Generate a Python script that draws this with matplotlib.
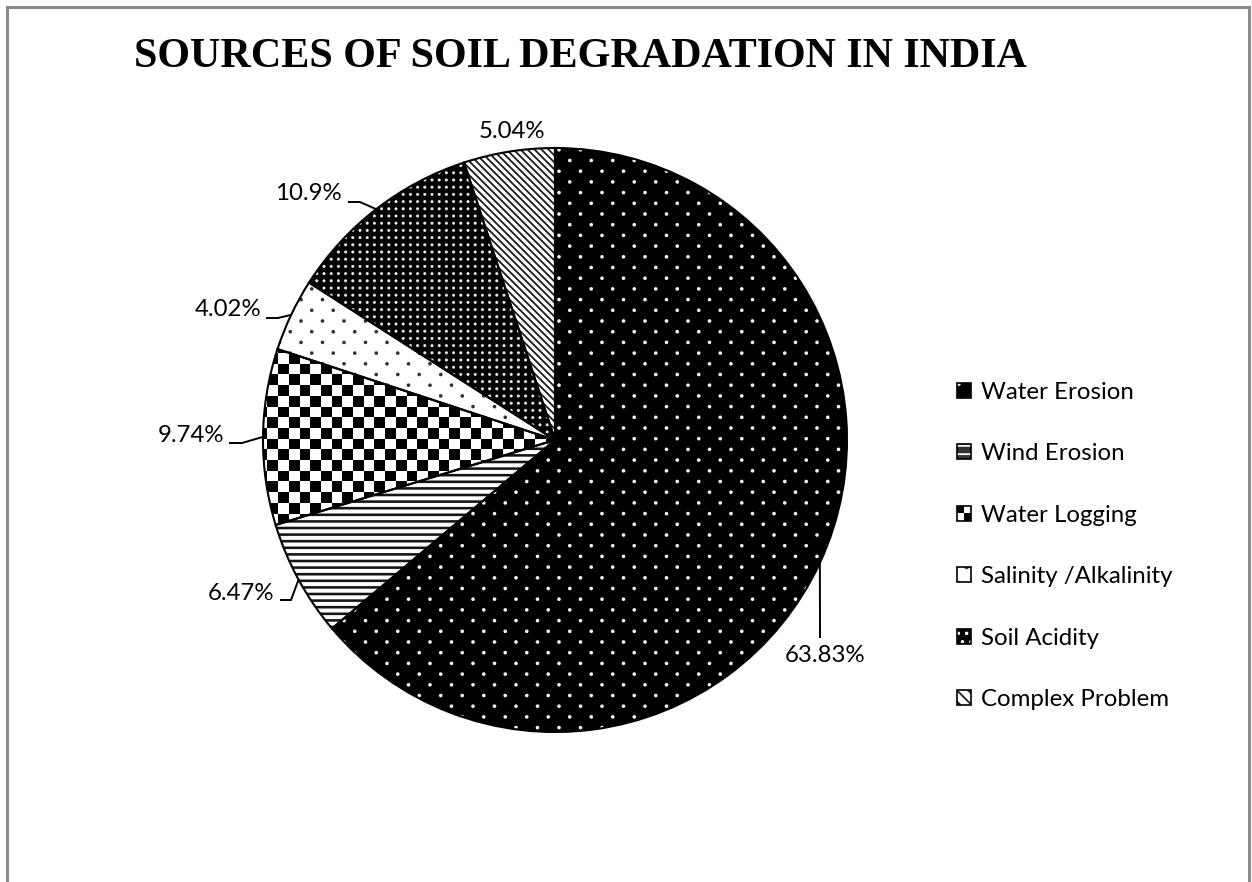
import numpy as np
import matplotlib
matplotlib.use('Agg')
import matplotlib.pyplot as plt
from matplotlib.patches import Rectangle
from matplotlib.legend_handler import HandlerBase

# ---------------- data ----------------
categories = ["Water Erosion", "Wind Erosion", "Water Logging",
              "Salinity /Alkalinity", "Soil Acidity", "Complex Problem"]
values = [63.83, 6.47, 9.74, 4.02, 10.9, 5.04]
label_texts = ["63.83%", "6.47%", "9.74%", "4.02%", "10.9%", "5.04%"]
title_text = "SOURCES OF SOIL DEGRADATION IN INDIA"

# ---------------- style ----------------
W, H = 1252, 882
pattern_kind = ['sparse_dots_dark', 'hlines', 'checker', 'sparse_dots_light',
                'dense_dots_dark', 'diag']
# legend swatch styles (hatch-based)
leg_face = ['black', '#333333', 'white', 'white', 'black', 'white']
leg_hcol = ['white', 'white', 'white', '#444444', 'white', '#222222']
leg_hatch = ['.', '--', None, '.', '..', '\\\\\\']

plt.rcParams['hatch.linewidth'] = 1.3
LABEL_FONT = ['Lato', 'DejaVu Sans']
FS = 17.3

fig = plt.figure(figsize=(W / 100, H / 100), dpi=100)
ax = fig.add_axes([0, 0, 1, 1])


def py(y):
    return H - y


cx_px, cy_px = 555, 440
R = 292
center = (cx_px, py(cy_px))

wedges, _ = ax.pie(values, startangle=90, counterclock=False, center=center,
                   radius=R, wedgeprops=dict(facecolor='none', linewidth=0))

# ---------------- textures (pixel grid over pie bbox) ----------------
N = 2 * R
x0p, y0p = cx_px - R, cy_px - R
X, Y = np.meshgrid(np.arange(N) + x0p + 0.5, np.arange(N) + y0p + 0.5)


def dots(dx, dy, r, stagger):
    row = np.round(Y / dy)
    xo = (row % 2) * dx / 2 if stagger else 0.0
    ddy = Y - row * dy
    ddx = ((X - xo) + dx / 2) % dx - dx / 2
    d = np.hypot(ddx, ddy)
    return np.clip(r + 0.6 - d, 0, 1)


def lines(coord, period, th):
    d = np.abs((coord + period / 2) % period - period / 2)
    return np.clip(th / 2 + 0.5 - d, 0, 1)


def texture(kind):
    if kind == 'sparse_dots_dark':
        return dots(21.5, 10.7, 1.7, True) * 0.95
    if kind == 'sparse_dots_light':
        return 1 - dots(21.5, 10.7, 1.7, True) * 0.8
    if kind == 'dense_dots_dark':
        return dots(7.2, 7.2, 1.4, False) * 0.9
    if kind == 'hlines':
        return 1 - lines(Y, 6.6, 2.6) * 0.92
    if kind == 'diag':
        return 1 - lines((X - Y) / np.sqrt(2), 7.0 / np.sqrt(2), 1.9) * 0.9
    if kind == 'checker':
        c = (np.floor(X / 10.7) + np.floor(Y / 10.7)) % 2
        return c.astype(float)
    return np.ones_like(X)


for w, kind in zip(wedges, pattern_kind):
    im = ax.imshow(texture(kind), cmap='gray', vmin=0, vmax=1, interpolation='nearest',
                   origin='upper',
                   extent=(x0p, x0p + N, py(y0p + N), py(y0p)), zorder=1.5)
    im.set_clip_path(w)

# outlines
outl, _ = ax.pie(values, startangle=90, counterclock=False, center=center, radius=R,
                 wedgeprops=dict(fill=False, edgecolor='black', linewidth=1.5))
for w in outl:
    w.set_zorder(3)

ax.set_xlim(0, W)
ax.set_ylim(0, H)
ax.set_aspect('auto')
ax.axis('off')

# ---------------- data labels with leader lines ----------------
label_layout = [
    (825, 656, 'center', [(820, 638)]),
    (274, 593, 'right', [(280, 600), (291, 600)]),
    (224, 435, 'right', [(229, 443), (242, 443)]),
    (261, 310, 'right', [(266, 318), (278, 318)]),
    (342, 194, 'right', [(348, 202), (360, 202)]),
    (512, 132, 'center', None),
]
for w, txt, (tx, ty, ha, pts) in zip(wedges, label_texts, label_layout):
    mid = np.deg2rad((w.theta1 + w.theta2) / 2)
    ex = center[0] + R * np.cos(mid)
    ey = center[1] + R * np.sin(mid)
    ax.text(tx, py(ty), txt, ha=ha, va='center', fontsize=FS, family=LABEL_FONT,
            color='black', zorder=5)
    if pts:
        xs = [p[0] for p in pts] + [ex]
        ys = [py(p[1]) for p in pts] + [ey]
        ax.plot(xs, ys, color='black', lw=1.4, zorder=4, solid_capstyle='butt')

# ---------------- title ----------------
ax.text(580, py(57), title_text, ha='center', va='center', fontsize=30.3,
        fontweight='bold', family=['Liberation Serif', 'DejaVu Serif'], color='black')

# ---------------- border ----------------
ax.plot([7, 7, 1249, 1249], [py(900), py(6.5), py(6.5), py(900)],
        color='#8a8a8a', lw=2.2, zorder=6, solid_joinstyle='miter')


# ---------------- legend ----------------
class SwatchHandler(HandlerBase):
    def create_artists(self, legend, orig, xd, yd, w, h, fs, trans):
        x, y = -xd, -yd
        arts = []
        if getattr(orig, 'checker', False):
            arts.append(Rectangle((x, y), w, h, facecolor='white', edgecolor='none',
                                  transform=trans))
            arts.append(Rectangle((x, y + h / 2), w / 2, h / 2, facecolor='black',
                                  edgecolor='none', transform=trans))
            arts.append(Rectangle((x + w / 2, y), w / 2, h / 2, facecolor='black',
                                  edgecolor='none', transform=trans))
        else:
            r = Rectangle((x, y), w, h, facecolor=orig.get_facecolor(),
                          edgecolor=orig.hcol, linewidth=0, transform=trans)
            if orig.get_hatch():
                r.set_hatch(orig.get_hatch())
            arts.append(r)
        arts.append(Rectangle((x, y), w, h, fill=False, edgecolor='black',
                              linewidth=1.2, transform=trans))
        return arts


handles = []
for fc, hc, h, kind in zip(leg_face, leg_hcol, leg_hatch, pattern_kind):
    r = Rectangle((0, 0), 1, 1, facecolor=fc, hatch=h)
    r.hcol = hc
    r.checker = (kind == 'checker')
    handles.append(r)

fs_px = FS * 100 / 72
leg = ax.legend(handles, categories, loc='center left',
                bbox_to_anchor=(957, py(546)), bbox_transform=ax.transData,
                frameon=False, borderpad=0, borderaxespad=0,
                handlelength=14 / fs_px, handleheight=14 / fs_px,
                handletextpad=0.42, labelspacing=1.68,
                prop={'family': LABEL_FONT, 'size': FS},
                handler_map={Rectangle: SwatchHandler()})

fig.savefig('out.png', dpi=100, facecolor='white')
